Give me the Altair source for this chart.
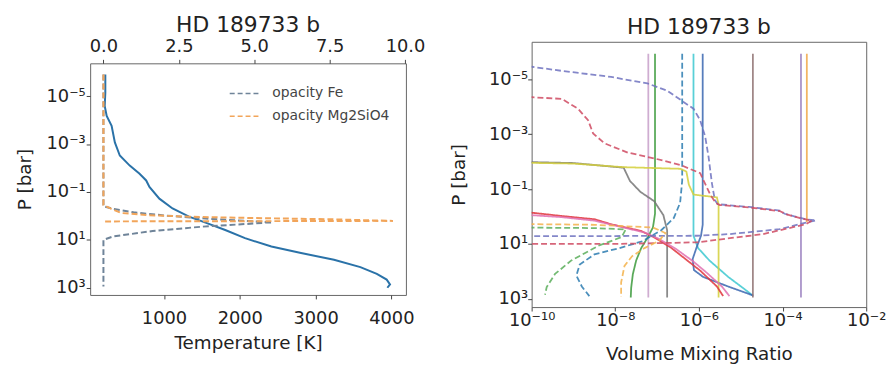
import altair as alt
import pandas as pd

FONT = "DejaVu Sans"
TXT = "#222222"
TITLE = "HD 189733 b"

# ---------------- left panel: temperature profile ----------------
temp_logp = [-5.9, -5.14, -4.59, -4.17, -3.76, -3.07, -2.52, -2.1, -1.76, -1.48, -1.21,
             -0.72, -0.31, 0.03, 0.28, 0.59, 0.93, 1.28, 1.55, 1.83, 2.14, 2.42, 2.66, 2.86, 3.0]
temp_K = [226, 226, 218, 244, 309, 352, 417, 548, 678, 765, 808,
          939, 1113, 1330, 1548, 1808, 2069, 2417, 2808, 3243, 3591, 3808, 3938, 3982, 3947]

# cloud opacities (top axis)
fe_op = [0, 0, 0.3, 1.0, 2.0, 3.5, 5.6, 3.27, 1.63, 0.32, 0, 0]
fe_logp = [-5.9, -0.4, -0.3, -0.15, -0.02, 0.12, 0.27, 0.45, 0.63, 0.86, 1.0, 2.95]
mg_op = [0, 0, 0.25, 0.6, 1.5, 3.0, 5.0, 7.5, 9.6, 0]
mg_logp = [-5.9, -0.45, -0.3, -0.12, -0.03, 0.04, 0.09, 0.14, 0.21, 0.23]

op_names = ["opacity Fe", "opacity Mg2SiO4"]
op_colors = ["#6f8499", "#f2a55a"]

# ---------------- right panel: volume mixing ratios (log10 values) ----------------
lilac_lx = [-7.21, -7.21]
lilac_lp = [-5.93, 2.95]
green_lx = [-7.05, -7.05, -7.10, -7.22, -7.38, -7.50, -7.58, -7.62, -7.63]
green_lp = [-5.93, -0.10, 0.40, 0.75, 1.15, 1.60, 2.10, 2.60, 2.95]
tealdash_lx = [-6.40, -6.40, -6.45, -6.60, -6.90, -7.35, -7.90, -8.50, -8.85, -8.93, -8.80, -8.62]
tealdash_lp = [-5.93, -1.30, -0.50, 0.05, 0.50, 0.90, 1.15, 1.38, 1.75, 2.15, 2.55, 2.90]
cyan_lx = [-6.13, -6.13, -6.02, -5.75, -5.30, -4.95, -4.72]
cyan_lp = [-5.93, 0.70, 1.15, 1.60, 2.20, 2.60, 2.87]
blue_lx = [-5.91, -5.91, -5.95, -6.05, -6.15, -6.12, -5.90, -5.30, -4.70]
blue_lp = [-5.93, 0.30, 0.70, 1.10, 1.55, 1.95, 2.20, 2.55, 2.88]
brown_lx = [-4.71, -4.71]
brown_lp = [-5.93, 2.95]
orange_lx = [-3.42, -3.42]
orange_lp = [-5.93, 0.20]
purple_lx = [-3.56, -3.56]
purple_lp = [-5.93, 2.95]
gray_lx = [-10.5, -9.0, -7.80, -7.65, -7.40, -7.07, -6.85, -6.76, -6.76]
gray_lp = [-2.00, -1.95, -1.78, -1.30, -0.90, -0.56, -0.05, 0.50, 2.95]
yellow_lx = [-10.5, -9.0, -7.80, -6.44, -6.30, -6.24, -6.13, -5.57, -5.53, -5.53]
yellow_lp = [-1.97, -1.93, -1.80, -1.74, -1.64, -1.16, -0.80, -0.70, -0.44, 2.95]
red_lx = [-10.5, -10.0, -9.28, -8.49, -8.10, -7.39, -7.07, -6.68, -6.28, -5.97, -5.57, -5.42]
red_lp = [-0.20, -0.14, -0.02, 0.10, 0.28, 0.52, 0.76, 1.12, 1.60, 1.97, 2.55, 2.90]
pink_lx = [-10.5, -9.3, -8.5, -8.0, -7.3, -6.95, -6.55, -6.15, -5.85, -5.45, -5.27]
pink_lp = [-0.10, 0.02, 0.15, 0.33, 0.58, 0.82, 1.18, 1.62, 2.00, 2.55, 2.90]
bluedash_lx = [-10.5, -10.0, -9.28, -8.10, -7.23, -6.76, -6.36, -6.13, -5.97, -5.85, -5.77, -5.69,
               -5.62, -5.55, -4.80, -4.07, -3.95, -3.70, -3.44, -3.20, -3.44, -4.07, -5.26, -6.05, -8.0, -10.5]
bluedash_lp = [-5.50, -5.46, -5.31, -5.09, -4.85, -4.59, -4.17, -3.93, -3.51, -2.91, -2.18, -1.22,
               -0.60, -0.45, -0.35, -0.22, -0.10, 0.00, 0.10, 0.14, 0.22, 0.46, 0.64, 0.70, 0.71, 0.71]
reddash_lx = [-10.5, -10.0, -9.28, -8.89, -8.65, -8.53, -8.26, -7.70, -7.07, -6.44, -5.97, -5.73,
              -5.60, -5.50, -4.80, -4.07, -3.90, -3.60, -3.30, -3.44, -4.47, -6.05, -8.0, -10.5]
reddash_lp = [-4.36, -4.35, -4.29, -3.93, -3.51, -3.03, -2.67, -2.33, -2.12, -1.88, -1.58, -0.80,
              -0.50, -0.42, -0.33, -0.20, -0.08, 0.05, 0.15, 0.28, 0.64, 0.94, 1.00, 1.00]
greendash_lx = [-10.5, -8.5, -7.75, -7.85, -8.41, -9.05, -9.44, -9.64, -9.68]
greendash_lp = [0.40, 0.42, 0.47, 0.75, 1.07, 1.60, 2.09, 2.57, 2.85]
orangedash_lx = [-10.5, -8.5, -7.10, -6.80, -6.95, -7.30, -7.60, -7.78, -7.86, -7.86]
orangedash_lp = [0.27, 0.30, 0.40, 0.60, 0.88, 1.15, 1.45, 1.80, 2.40, 2.93]

series = [
    ("lilac", "solid", "#c79fc9", lilac_lx, lilac_lp),
    ("green", "solid", "#3c9a3c", green_lx, green_lp),
    ("tealdash", "dashed", "#2c7bb0", tealdash_lx, tealdash_lp),
    ("cyan", "solid", "#3cc8d0", cyan_lx, cyan_lp),
    ("blue", "solid", "#3a66b0", blue_lx, blue_lp),
    ("brown", "solid", "#8f7272", brown_lx, brown_lp),
    ("orange", "solid", "#f0a848", orange_lx, orange_lp),
    ("purple", "solid", "#9a80c0", purple_lx, purple_lp),
    ("gray", "solid", "#767676", gray_lx, gray_lp),
    ("yellow", "solid", "#d4cf3a", yellow_lx, yellow_lp),
    ("red", "solid", "#e0343c", red_lx, red_lp),
    ("pink", "solid", "#e070b0", pink_lx, pink_lp),
    ("bluedash", "dashed", "#6e72c0", bluedash_lx, bluedash_lp),
    ("reddash", "dashed", "#cf4a62", reddash_lx, reddash_lp),
    ("greendash", "dashed", "#5aae5a", greendash_lx, greendash_lp),
    ("orangedash", "dashed", "#f3b24a", orangedash_lx, orangedash_lp),
]

# ---------------- tables ----------------
df_t = pd.DataFrame({"T": temp_K, "P": [10 ** v for v in temp_logp], "idx": range(len(temp_K))})
rows = []
for name, ops, lps in [(op_names[0], fe_op, fe_logp), (op_names[1], mg_op, mg_logp)]:
    for i, (o, lp) in enumerate(zip(ops, lps)):
        rows.append({"name": name, "op": o, "P": 10 ** lp, "idx": i})
df_op = pd.DataFrame(rows)

rows = []
for name, style, _, lxs, lps in series:
    for i, (lx, lp) in enumerate(zip(lxs, lps)):
        rows.append({"series": name, "style": style, "X": 10 ** lx, "P": 10 ** lp, "idx": i})
df_r = pd.DataFrame(rows)
r_names = [s[0] for s in series]
r_colors = [s[2] for s in series]

# ---------------- scales / axes ----------------
yscale = alt.Scale(type="log", domain=[10 ** -6.37, 10 ** 3.3], reverse=True, nice=False)
p_ticks = [1e-5, 1e-3, 1e-1, 1e1, 1e3]
ylab = ("datum.value < 1e-4 ? '10\u207b\u2075' : datum.value < 1e-2 ? '10\u207b\u00b3' : "
        "datum.value < 1 ? '10\u207b\u00b9' : datum.value < 100 ? '10\u00b9' : '10\u00b3'")
xlab_r = ("datum.value < 1e-9 ? '10\u207b\u00b9\u2070' : datum.value < 1e-7 ? '10\u207b\u2078' : "
          "datum.value < 1e-5 ? '10\u207b\u2076' : datum.value < 1e-3 ? '10\u207b\u2074' : '10\u207b\u00b2'")

y_axis_left = alt.Axis(values=p_ticks, labelExpr=ylab, title="P [bar]", labelPadding=1, titlePadding=12)
y_axis_right = alt.Axis(values=p_ticks, labelExpr=ylab, title="P [bar]", labelPadding=0, titlePadding=20)

t_chart = alt.Chart(df_t).mark_line(color="#2a72a8", strokeWidth=2).encode(
    x=alt.X("T:Q", scale=alt.Scale(domain=[26, 4192], nice=False, zero=False),
            axis=alt.Axis(values=[1000, 2000, 3000, 4000], format="d", title="Temperature [K]",
                          labelPadding=10.5, titlePadding=6.5, labelFlush=False)),
    y=alt.Y("P:Q", scale=yscale, axis=y_axis_left),
    order="idx:Q",
)

op_chart = alt.Chart(df_op).mark_line(strokeWidth=2, strokeDash=[6, 3]).encode(
    x=alt.X("op:Q", scale=alt.Scale(domain=[-0.44, 10.03], nice=False, zero=False),
            axis=alt.Axis(orient="top", values=[0, 2.5, 5, 7.5, 10], format=".1f", title=None,
                          labelPadding=3.5, labelFlush=False)),
    y=alt.Y("P:Q", scale=yscale, axis=y_axis_left),
    color=alt.Color("name:N", scale=alt.Scale(domain=op_names, range=op_colors),
                    legend=alt.Legend(title=None, orient="none", legendX=140, legendY=15,
                                      symbolType="stroke", symbolSize=841, symbolStrokeWidth=1.5,
                                      symbolDash=[5, 3], labelFontSize=14, labelColor="#444444",
                                      labelFont=FONT, rowPadding=-9, padding=0, labelOffset=13)),
    order="idx:Q",
)

left = alt.layer(t_chart, op_chart).resolve_scale(x="independent").properties(
    width=319, height=234,
    title=alt.TitleParams(TITLE, fontSize=22, fontWeight="normal", font=FONT, color=TXT, offset=1.2),
)

r_lines = alt.Chart(df_r).mark_line(strokeWidth=1.8, strokeOpacity=0.85, clip=True).encode(
    x=alt.X("X:Q", scale=alt.Scale(type="log", domain=[1e-10, 1e-2], nice=False),
            axis=alt.Axis(values=[1e-10, 1e-8, 1e-6, 1e-4, 1e-2], labelExpr=xlab_r,
                          title="Volume Mixing Ratio", labelPadding=1, titlePadding=15, labelFlush=False)),
    y=alt.Y("P:Q", scale=yscale, axis=y_axis_right),
    color=alt.Color("series:N", scale=alt.Scale(domain=r_names, range=r_colors), legend=None),
    strokeDash=alt.StrokeDash("style:N", scale=alt.Scale(domain=["solid", "dashed"], range=[[1, 0], [6, 3]]),
                              legend=None),
    order="idx:Q",
)

r_title = alt.Chart(pd.DataFrame({"t": [TITLE]})).mark_text(
    fontSize=22, font=FONT, color=TXT, baseline="alphabetic", align="center"
).encode(text="t:N", x=alt.value(169), y=alt.value(-8))

# invisible layout helpers (balance the vertical centring of the two panels)
spacer_top = alt.Chart(pd.DataFrame({"t": ["."]})).mark_text(opacity=0, fontSize=10, baseline="top").encode(
    text="t:N", x=alt.value(169), y=alt.value(-31))
spacer_bottom = alt.Chart(pd.DataFrame({"t": ["."]})).mark_text(opacity=0, fontSize=10, baseline="top").encode(
    text="t:N", x=alt.value(169), y=alt.value(325))

right = alt.layer(r_lines, r_title, spacer_top, spacer_bottom).properties(width=338, height=268)

chart = alt.hconcat(left, right, spacing=23, center=True).resolve_scale(
    color="independent", strokeDash="independent"
).properties(
    padding={"left": 6, "top": 0, "right": 0, "bottom": 0}, background="white"
).configure_view(stroke="#666666", strokeWidth=1).configure_axis(
    labelFont=FONT, titleFont=FONT, labelFontSize=18, titleFontSize=18.5, titleFontWeight="normal",
    labelColor=TXT, titleColor=TXT, tickColor="#444444", tickSize=4, domain=False, grid=False,
    labelOverlap=False,
)

chart.save("out.html", embed_options={"renderer": "svg", "actions": False})
